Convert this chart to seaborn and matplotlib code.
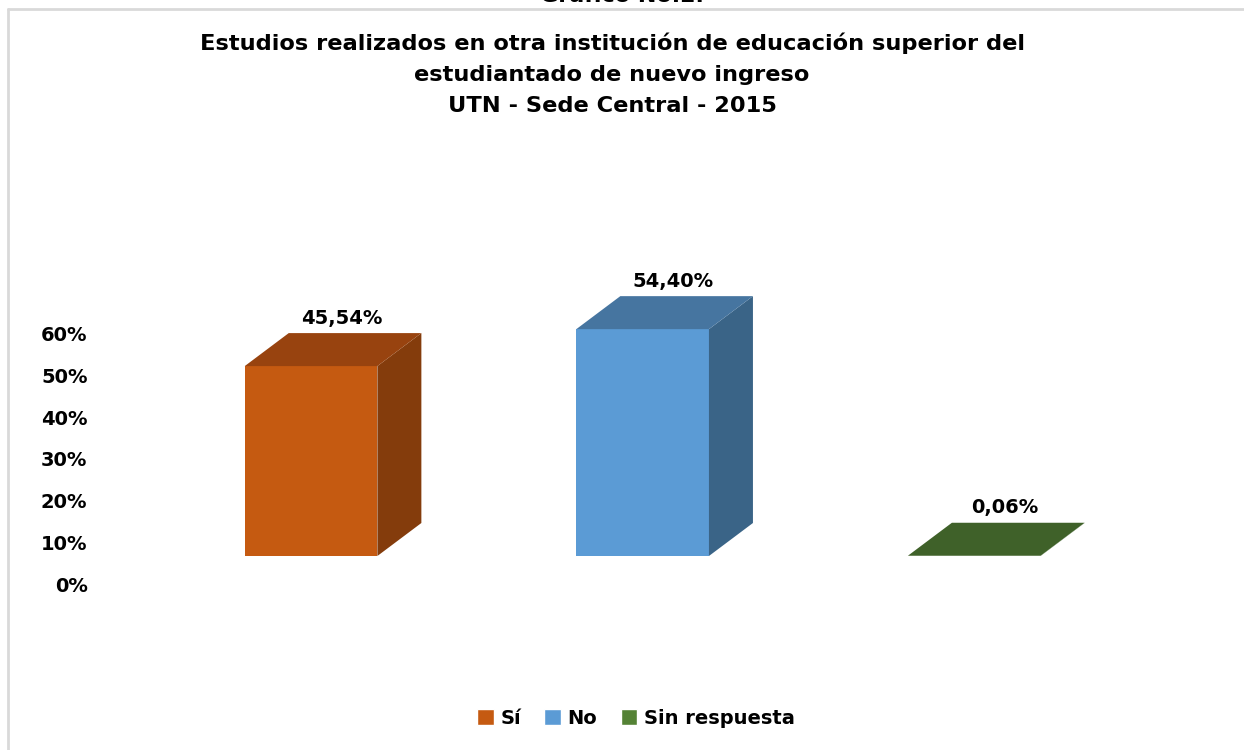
import matplotlib
matplotlib.use('Agg')
import matplotlib.pyplot as plt
import matplotlib.transforms as mtransforms
from matplotlib.patches import Polygon, Patch
import seaborn as sns
import pandas as pd

categorias = ['Sí', 'No', 'Sin respuesta']
porcentajes = [45.54, 54.40, 0.06]
etiquetas = ['45,54%', '54,40%', '0,06%']
ticks = [0, 10, 20, 30, 40, 50, 60]
tick_labels = ['0%', '10%', '20%', '30%', '40%', '50%', '60%']

color_frente = ['#C55A11', '#5B9BD5', '#548235']
color_tapa = ['#98430F', '#4675A0', '#3F6129']
color_lado = ['#843C0C', '#3A6487', '#3F6129']

titulo = ('Estudios realizados en otra institución de educación superior del\n'
          'estudiantado de nuevo ingreso\nUTN - Sede Central - 2015')

sns.set_theme(style='white')
plt.rcParams['font.family'] = ['DejaVu Sans']
plt.rcParams['font.weight'] = 'bold'
plt.rcParams['text.color'] = 'black'
plt.rcParams['ytick.color'] = 'black'

df = pd.DataFrame({'cat': categorias, 'valor': porcentajes})

fig = plt.figure(figsize=(12.44, 7.5), dpi=100)
ax = fig.add_axes([100 / 1244, 150 / 750, 1040 / 1244, 350 / 750])

sns.barplot(data=df, x='cat', y='valor', hue='cat', palette=color_frente,
            width=0.4, legend=False, ax=ax, saturation=1, linewidth=0)
ax.set_xlim(-0.6365, 2.5)
ax.set_ylim(-10.55, 73.38)

# profundidad 3D en pixeles -> datos
prof_px = (44, 33)
inv = ax.transData.inverted()
x0, y0 = ax.transData.transform((0, 0))
dxd, dyd = inv.transform((x0 + prof_px[0], y0 + prof_px[1])) - inv.transform((x0, y0))

for i, bar in enumerate(ax.patches):
    xl = bar.get_x()
    xr = xl + bar.get_width()
    h = bar.get_height()
    tapa = Polygon([(xl, h), (xr, h), (xr + dxd, h + dyd), (xl + dxd, h + dyd)],
                   closed=True, facecolor=color_tapa[i], edgecolor='none')
    lado = Polygon([(xr, 0), (xr + dxd, dyd), (xr + dxd, h + dyd), (xr, h)],
                   closed=True, facecolor=color_lado[i], edgecolor='none')
    ax.add_patch(lado)
    ax.add_patch(tapa)
    ax.annotate(etiquetas[i], (xl + bar.get_width() / 2 + dxd / 2, h + dyd),
                xytext=(6, 4), textcoords='offset points', ha='center', va='bottom',
                fontsize=14, fontweight='bold', color='black')

ax.set_yticks(ticks)
ax.set_yticklabels(tick_labels, fontsize=14, fontweight='bold', color='black')
ax.tick_params(axis='y', length=0, pad=9)
desplazo = mtransforms.ScaledTranslation(0, -28 / 100, fig.dpi_scale_trans)
for lab in ax.get_yticklabels():
    lab.set_transform(lab.get_transform() + desplazo)
ax.set_xticks([])
ax.set_xlabel('')
ax.set_ylabel('')
for s in ax.spines.values():
    s.set_visible(False)

fig.text(622 / 1244, 1 - 2 / 750, 'Gráfico No.2.', ha='center', va='baseline',
         fontsize=16, fontweight='bold', color='black')
fig.text(612 / 1244, 1 - 33 / 750, titulo, ha='center', va='top',
         fontsize=16.2, fontweight='bold', linespacing=1.68, color='black')

# marco del grafico
fig.add_artist(plt.Line2D([8 / 1244, 1], [1 - 9 / 750, 1 - 9 / 750],
                          color='#D9D9D9', lw=2))
fig.add_artist(plt.Line2D([8 / 1244, 8 / 1244], [0, 1 - 9 / 750],
                          color='#D9D9D9', lw=2))

handles = [Patch(facecolor=c, label=l) for c, l in zip(color_frente, categorias)]
fig.legend(handles=handles, loc='center', bbox_to_anchor=(636 / 1244, 1 - 718 / 750),
           ncol=3, frameon=False, handlelength=0.85, handleheight=0.85,
           handletextpad=0.35, columnspacing=1.2, labelcolor='black',
           prop={'weight': 'bold', 'size': 14})

fig.savefig('out.png', dpi=100)
